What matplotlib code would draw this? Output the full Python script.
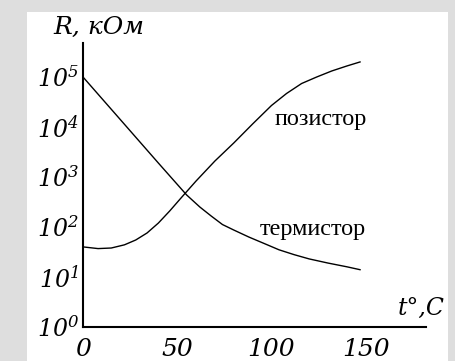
import math
import matplotlib
matplotlib.use('Agg')
import matplotlib.pyplot as plt
from matplotlib.patches import Rectangle
from matplotlib.ticker import FixedLocator, FuncFormatter

plt.rcParams['mathtext.fontset'] = 'custom'
plt.rcParams['mathtext.it'] = 'DejaVu Serif:italic'
plt.rcParams['mathtext.rm'] = 'DejaVu Serif:italic'

# термистор
t_therm = [0, 20, 40, 55, 62, 68, 74, 80, 88, 96, 104, 112, 120, 130, 140, 147]
r_therm = [100000, 13800, 1900, 437, 251, 166, 112, 87, 63, 47, 35, 28, 23, 19, 16, 14]
# позистор
t_pos = [0, 8, 15, 22, 28, 34, 40, 46, 52, 60, 70, 80, 90, 100, 108, 116, 124, 132, 140, 147]
r_pos = [40, 37, 38, 44, 55, 76, 120, 209, 380, 832, 2090, 4790, 11500, 26900,
         46800, 74100, 100000, 132000, 166000, 200000]

x_ticks = [0, 50, 100, 150]
y_decades = [0, 1, 2, 3, 4, 5]

W, H = 455, 361
fig = plt.figure(figsize=(W / 100, H / 100), dpi=100, facecolor='#dedede')
fig.patches.append(Rectangle((27 / W, 0), (448 - 27) / W, (H - 12) / H,
                             transform=fig.transFigure, facecolor='white',
                             edgecolor='none', zorder=-1))

ax = fig.add_axes([83 / W, (H - 327) / H, (426 - 83) / W, (327 - 43) / H])
ax.set_facecolor('none')
ax.plot(t_therm, r_therm, color='black', lw=1.0)
ax.plot(t_pos, r_pos, color='black', lw=1.0)
ax.set_yscale('log')
ax.set_xlim(0, 182)
ax.set_ylim(1, 10 ** 5.68)

for s in ['top', 'right']:
    ax.spines[s].set_visible(False)
for s in ['left', 'bottom']:
    ax.spines[s].set_linewidth(1.5)

ax.xaxis.set_major_locator(FixedLocator(x_ticks))
ax.yaxis.set_major_locator(FixedLocator([10 ** d for d in y_decades]))
ax.yaxis.set_minor_locator(FixedLocator([]))
ax.yaxis.set_major_formatter(FuncFormatter(lambda v, p: r'$10^{%d}$' % round(math.log10(v))))
ax.tick_params(axis='x', length=0, pad=8)
ax.tick_params(axis='y', length=0, pad=3)
for lab in ax.get_xticklabels():
    lab.set_fontfamily('DejaVu Serif')
    lab.set_fontstyle('italic')
    lab.set_fontsize(18)
for lab in ax.get_yticklabels():
    lab.set_fontsize(17)

fig.text(53 / W, 1 - 27 / H, 'R, кОм', family='DejaVu Serif', style='italic',
         fontsize=18, va='center', ha='left')
fig.text(445 / W, 1 - 308 / H, 't°,C', family='DejaVu Serif', style='italic',
         fontsize=17, va='center', ha='right')
fig.text(275 / W, 1 - 120 / H, 'позистор', family='Liberation Serif',
         fontsize=17.5, va='center', ha='left')
fig.text(260 / W, 1 - 230 / H, 'термистор', family='Liberation Serif',
         fontsize=17.5, va='center', ha='left')

fig.savefig('out.png', dpi=100, facecolor=fig.get_facecolor())
